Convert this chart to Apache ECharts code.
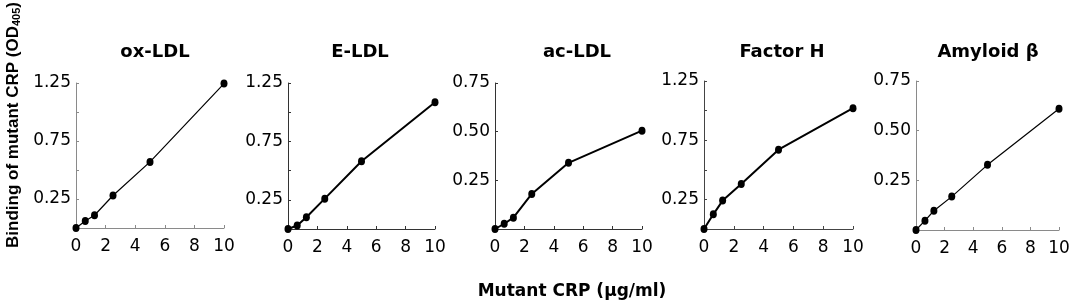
<!DOCTYPE html>
<html>
<head>
<meta charset="utf-8">
<script src="https://cdn.jsdelivr.net/npm/echarts@6/dist/echarts.min.js"></script>
<style>
  html, body { margin: 0; padding: 0; background: #fff; }
  #chart { width: 1084px; height: 308px; }
</style>
</head>
<body>
<div id="chart"></div>
<script>
  // concentration of mutant CRP (ug/ml)
  const doses = [0, 0.625, 1.25, 2.5, 5, 10]
  const panelNames = ['ox-LDL', 'E-LDL', 'ac-LDL', 'Factor H', 'Amyloid β']
  // OD405 readings
  const oxLDL = [0, 0.06, 0.11, 0.28, 0.57, 1.245]
  const eLDL = [0, 0.03, 0.10, 0.26, 0.58, 1.085]
  const acLDL = [0, 0.027, 0.058, 0.18, 0.34, 0.505]
  const factorH = [0, 0.124, 0.24, 0.38, 0.67, 1.02]
  const amyloid = [0, 0.047, 0.097, 0.168, 0.328, 0.61]
  const yMax = [1.25, 1.25, 0.75, 1.25, 0.75]
  const xTicks = [0, 2, 4, 6, 8, 10]

  const values = [oxLDL, eLDL, acLDL, factorH, amyloid]
  // grid boxes
  const boxes = [
    {left: 76, top: 83, width: 148, height: 145},
    {left: 288, top: 83, width: 147, height: 146},
    {left: 495, top: 83, width: 147, height: 146},
    {left: 704, top: 81, width: 149, height: 148},
    {left: 916, top: 81, width: 143, height: 149}
  ]
  const lineW = [1.2, 2, 2, 2, 1.2]
  const axisCol = ['#8a8a8a', '#333', '#333', '#444', '#8a8a8a']
  const titleX = [155, 360, 577, 782, 988]

  const font = 'DejaVu Sans'
  const chart = echarts.init(document.getElementById('chart'))

  const grid = [], xAxis = [], yAxis = [], series = [], title = []
  boxes.forEach((b, i) => {
    grid.push(b)
    xAxis.push({
      type: 'value', gridIndex: i, min: 0, max: 10, interval: 2,
      axisLine: {show: true, lineStyle: {color: axisCol[i], width: 1}},
      axisTick: {show: true, inside: true, length: 3, lineStyle: {color: axisCol[i]}},
      axisLabel: {color: '#000', fontFamily: font, fontSize: 17, margin: 10,
        formatter: v => xTicks.includes(v) ? String(v) : ''},
      splitLine: {show: false}
    })
    yAxis.push({
      type: 'value', gridIndex: i, min: 0, max: yMax[i], interval: 0.25,
      axisLine: {show: true, lineStyle: {color: axisCol[i], width: 1}},
      axisTick: {show: true, inside: true, length: 3, lineStyle: {color: axisCol[i]}},
      axisLabel: {color: '#000', fontFamily: font, fontSize: 17, margin: 5,
        formatter: v => {
          if (v === 0) return ''
          if (yMax[i] > 1 && (v === 0.5 || v === 1)) return ''
          return v.toFixed(2)
        }},
      splitLine: {show: false}
    })
    series.push({
      type: 'line', xAxisIndex: i, yAxisIndex: i,
      data: doses.map((d, k) => [d, values[i][k]]),
      symbol: 'circle', symbolSize: [7, 8],
      itemStyle: {color: '#000'},
      lineStyle: {color: '#000', width: lineW[i]},
      clip: false, animation: false
    })
    title.push({
      text: panelNames[i], left: titleX[i], top: 43, textAlign: 'center', padding: 0,
      textStyle: {fontFamily: font, fontSize: 18, fontWeight: 'bold', color: '#000'}
    })
  })

  const option = {
    backgroundColor: '#fff',
    animation: false,
    title: title,
    grid: grid,
    xAxis: xAxis,
    yAxis: yAxis,
    series: series,
    graphic: [
      {
        type: 'text', x: 13, y: 125, rotation: Math.PI / 2,
        style: {
          text: '{a|Binding of mutant CRP (OD}{s|405}{a|)}',
          align: 'center', verticalAlign: 'middle',
          rich: {
            a: {fontFamily: 'Liberation Sans', fontSize: 17, fontWeight: 'bold', fill: '#000'},
            s: {fontFamily: 'Liberation Sans', fontSize: 11, fontWeight: 'bold', fill: '#000', verticalAlign: 'bottom', padding: [8, 0, 0, 0]}
          }
        }
      },
      {
        type: 'text', x: 572, y: 292,
        style: {
          text: 'Mutant CRP (μg/ml)', align: 'center', verticalAlign: 'middle',
          font: 'bold 17px "DejaVu Sans"', fill: '#000'
        }
      }
    ]
  }
  chart.setOption(option)
</script>
</body>
</html>
